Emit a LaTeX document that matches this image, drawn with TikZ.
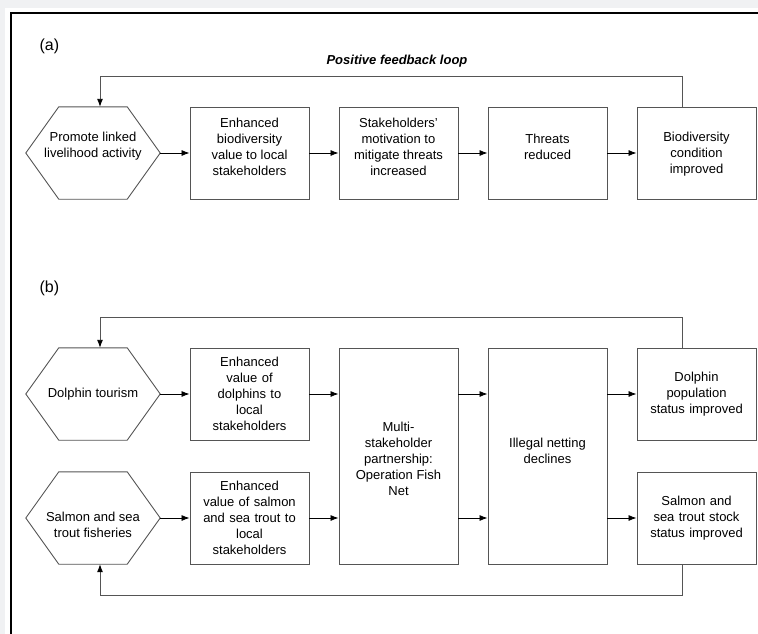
\documentclass[tikz,border=0pt]{standalone}
\usepackage{fontspec}
\setmainfont{Liberation Sans}
\usetikzlibrary{arrows.meta}
\definecolor{pagegray}{HTML}{F0F1F3}
\definecolor{boxgray}{HTML}{555555}
\tikzset{
  boxline/.style={draw=boxgray, line width=0.9pt},
  stepbox/.style={boxline, minimum width=119pt, minimum height=92pt, inner sep=1pt, align=center, text width=112pt, font=\fontsize{13pt}{16pt}\selectfont},
  tallbox/.style={stepbox, minimum height=216pt},
  txt/.style={align=center, inner sep=0pt, font=\fontsize{13pt}{16pt}\selectfont},
  hexstyle/.style={minimum width=134pt, minimum height=92pt, inner sep=0pt, align=center, font=\fontsize{13pt}{16pt}\selectfont},
  flow/.style={draw=black, line width=0.8pt, -{Latex[length=8pt,width=6pt]}},
  loopline/.style={draw=boxgray, line width=0.9pt},
  loopar/.style={loopline, -{Latex[length=8pt,width=6pt,color=black]}},
  panel/.style={font=\fontsize{16pt}{18pt}\selectfont},
}
\newcommand{\mkhex}[4]{%
  \node[hexstyle] (#1) at (#2,#3) {};
  \draw[boxline] (#1.west) -- ([xshift=33pt]#1.north west) -- ([xshift=-33pt]#1.north east)
    -- (#1.east) -- ([xshift=-33pt]#1.south east) -- ([xshift=33pt]#1.south west) -- cycle;
  \node[txt] (#1t) at ([yshift=#4]#1.center)
}
\begin{document}
\begin{tikzpicture}[x=1pt,y=-1pt]
\clip (0,0) rectangle (758,634);
\fill[pagegray] (0,0) rectangle (758,634);
\fill[white] (5,8) rectangle (770,650);
\draw[black, line width=1.5pt] (11,700) -- (11,13) -- (800,13);

% ---------- panel (a)
\node[panel, anchor=west] (la) at (36,46) {(a)};
\node[font=\fontsize{13pt}{16pt}\selectfont\bfseries\itshape] (pfl) at (397,61) {Positive feedback loop};

\mkhex{a0}{93}{153}{7pt} {Promote linked\\livelihood activity};
\node[stepbox] (a1) at (249.5,153) {};
\node[txt] (a1t) at ([yshift=6pt]a1.center) {Enhanced\\biodiversity\\value to local\\stakeholders};
\node[stepbox] (a2) at (398.5,153) {};
\node[txt] (a2t) at ([yshift=6pt]a2.center) {Stakeholders'\\motivation to\\mitigate threats\\increased};
\node[stepbox] (a3) at (547.5,153) {};
\node[txt] (a3t) at ([yshift=6pt]a3.center) {Threats\\reduced};
\node[stepbox] (a4) at (696.5,153) {};
\node[txt] (a4t) at ([yshift=-1pt]a4.center) {Biodiversity\\condition\\improved};

\draw[flow] (a0.east) -- (a1.west);
\draw[flow] (a1.east) -- (a2.west);
\draw[flow] (a2.east) -- (a3.west);
\draw[flow] (a3.east) -- (a4.west);
\coordinate (ta) at (682,76);
\coordinate (ta2) at (100,76);
\draw[loopar] (a4.north -| ta) -- (ta) -- (ta2) -- (a0.north -| ta2);

% ---------- panel (b)
\node[panel, anchor=west] (lb) at (36,288) {(b)};

\mkhex{d0}{93}{394}{0pt} {Dolphin tourism};
\mkhex{s0}{93}{518}{-7pt} {Salmon and sea\\trout fisheries};
\node[stepbox] (d1) at (249.5,394) {Enhanced\\value of\\dolphins to\\local\\stakeholders};
\node[stepbox] (s1) at (249.5,518) {Enhanced\\value of salmon\\and sea trout to\\local\\stakeholders};
\node[tallbox] (m) at (398.5,456) {};
\node[txt] (mt) at ([yshift=-3pt]m.center) {Multi-\\stakeholder\\partnership:\\Operation Fish\\Net};
\node[tallbox] (il) at (547.5,456) {};
\node[txt] (ilt) at ([yshift=5pt]il.center) {Illegal netting\\declines};
\node[stepbox] (d2) at (696.5,394) {Dolphin\\population\\status improved};
\node[stepbox] (s2) at (696.5,518) {Salmon and\\sea trout stock\\status improved};

\draw[flow] (d0.east) -- (d1.west);
\draw[flow] (s0.east) -- (s1.west);
\draw[flow] (d1.east) -- (d1.east -| m.west);
\draw[flow] (s1.east) -- (s1.east -| m.west);
\draw[flow] (d1.east -| m.east) -- (d1.east -| il.west);
\draw[flow] (s1.east -| m.east) -- (s1.east -| il.west);
\draw[flow] (d1.east -| il.east) -- (d2.west);
\draw[flow] (s1.east -| il.east) -- (s2.west);

\coordinate (tb) at (682,317);
\coordinate (tb2) at (100,317);
\draw[loopar] (d2.north -| tb) -- (tb) -- (tb2) -- (d0.north -| tb2);
\coordinate (bb) at (682,595);
\coordinate (bb2) at (100,595);
\draw[loopar] (s2.south -| bb) -- (bb) -- (bb2) -- (s0.south -| bb2);
\end{tikzpicture}
\end{document}
